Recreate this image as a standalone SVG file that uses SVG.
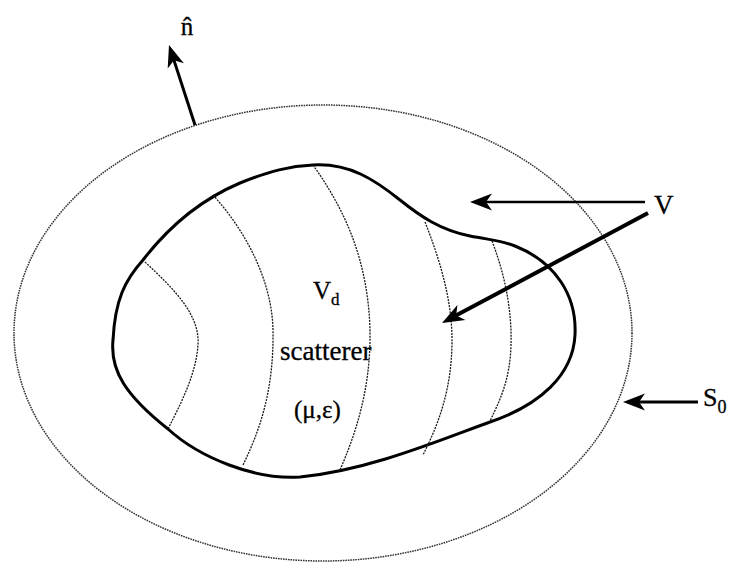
<svg xmlns="http://www.w3.org/2000/svg" width="732" height="563" viewBox="0 0 732 563">
<style>
.surf{fill:none;stroke:#333;stroke-width:1.5;stroke-dasharray:1.6 0.9}
.field{fill:none;stroke:#1a1a1a;stroke-width:1.3;stroke-dasharray:2 1.1}
.body{fill:none;stroke:#000;stroke-width:3}
.arr{fill:none;stroke:#000;marker-end:url(#ah)}
.lbl{font-family:"Liberation Serif","Times New Roman",serif;fill:#000;stroke:#000;stroke-width:0.3}
</style>
<defs>
<marker id="ah" markerUnits="userSpaceOnUse" markerWidth="40" markerHeight="40" refX="0" refY="0" orient="auto" overflow="visible">
<path d="M 12 0 L -10 -8.5 L -4 0 L -10 8.5 Z" fill="#000"/>
</marker>
</defs>
<rect width="732" height="563" fill="#fff"/>
<g id="S0-surface">
<ellipse class="surf" cx="323" cy="333" rx="309" ry="228"/>
</g>
<g id="scatterer">
<path class="body" d="M 313,165 C 350,163 375,180 400,200 C 420,216 440,230 470,236 C 490,240 500,240 515,246 C 555,262 577,295 575,335 C 573,375 540,405 490,422 C 440,440 370,470 300,477 C 255,480 200,458 168,429 C 125,395 110,370 113,340 C 115,300 125,280 143,260 C 170,225 200,200 240,183 C 270,171 290,166 313,165 Z"/>
</g>
<g id="field-lines">
<path class="field" d="M 145,262 C 175,290 200,315 198,345 C 196,375 180,405 168,429"/>
<path class="field" d="M 213,195 C 245,230 272,280 273,330 C 274,390 260,430 243,465"/>
<path class="field" d="M 313,165 C 345,210 368,260 370,330 C 371,390 355,435 340,470"/>
<path class="field" d="M 425,222 C 440,260 452,300 452,340 C 452,390 438,425 423,455"/>
<path class="field" d="M 492,241 C 505,275 512,310 511,345 C 510,380 500,400 490,421"/>
</g>
<g id="connectors">
<path class="arr" stroke-width="3" d="M 195,125 L 172.7,56.4"/>
<path class="arr" stroke-width="2.5" d="M 645,202 L 482,202"/>
<path class="arr" stroke-width="4" d="M 648,213 L 452.6,317.3"/>
<path class="arr" stroke-width="3" d="M 698,402 L 635,402"/>
</g>
<g id="labels">
<text class="lbl" x="187" y="35" font-size="25" text-anchor="middle">n̂</text>
<text class="lbl" x="654" y="214" font-size="27">V</text>
<text class="lbl" x="703" y="406" font-size="26">S<tspan font-size="18" dy="7">0</tspan></text>
<text class="lbl" x="313" y="299" font-size="25">V<tspan font-size="17" dy="6">d</tspan></text>
<text class="lbl" x="280" y="360" font-size="27">scatterer</text>
<text class="lbl" x="294" y="418" font-size="25">(μ,ε)</text>
</g>
</svg>
